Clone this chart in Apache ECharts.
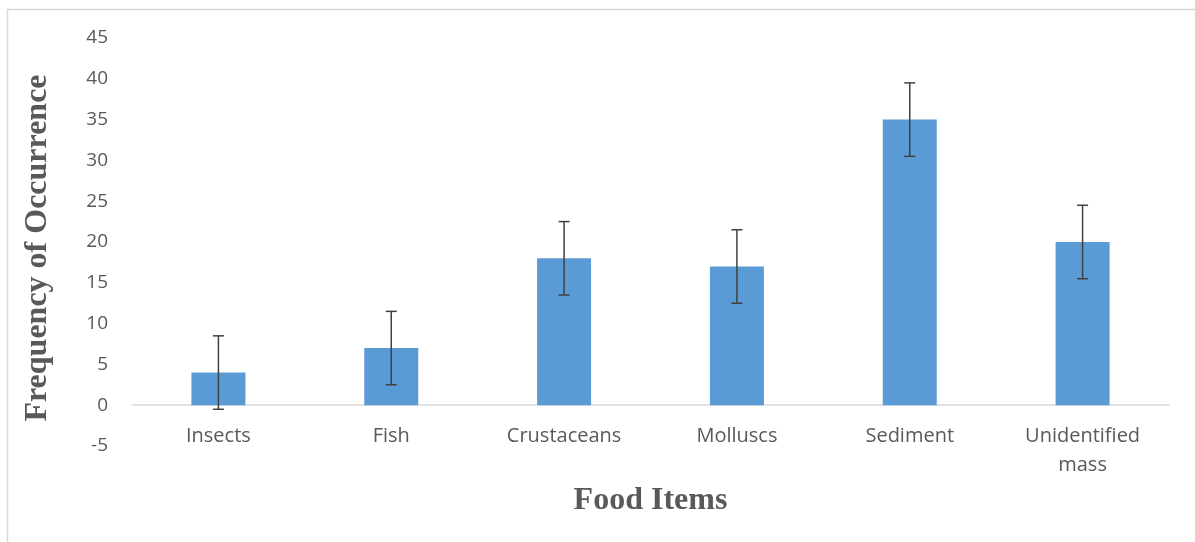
<!DOCTYPE html>
<html>
<head>
<meta charset="utf-8">
<script src="https://cdn.jsdelivr.net/npm/echarts@6/dist/echarts.min.js"></script>
<style>
  html, body { margin: 0; padding: 0; background: #fff; }
  #chart { width: 1195px; height: 542px; }
</style>
</head>
<body>
<div id="chart"></div>
<script>
// data
var categories = ["Insects", "Fish", "Crustaceans", "Molluscs", "Sediment", "Unidentified\nmass"];
var values = [4, 7, 18, 17, 35, 20];
var errors = [4.5, 4.5, 4.5, 4.5, 4.5, 4.5];

var chart = echarts.init(document.getElementById("chart"));

var errData = values.map(function (v, i) {
  return [i, v - errors[i], v + errors[i]];
});

chart.setOption({
  animation: false,
  graphic: [
    {
      type: "rect",
      shape: { x: 7.5, y: 9.5, width: 1300, height: 700 },
      style: { fill: "none", stroke: "#d9d9d9", lineWidth: 1.5 },
      silent: true
    }
  ],
  grid: {
    left: 132,
    right: 26,
    top: 38,
    bottom: 96,
    outerBoundsMode: "none"
  },
  xAxis: {
    type: "category",
    data: categories,
    // the axis sits on zero, labels hang just under it
    offset: -41,
    axisLine: { onZero: false, lineStyle: { color: "#d9d9d9", width: 1.5 } },
    axisTick: { show: false },
    axisLabel: {
      color: "#595959",
      fontFamily: "Open Sans",
      fontSize: 20,
      lineHeight: 29,
      margin: 17,
      interval: 0
    },
    name: "Food Items",
    nameLocation: "middle",
    nameGap: 80,
    nameTextStyle: {
      color: "#595959",
      fontFamily: "Liberation Serif",
      fontWeight: "bold",
      fontSize: 32
    }
  },
  yAxis: {
    type: "value",
    min: -5,
    max: 45,
    interval: 5,
    splitLine: { show: false },
    axisLine: { show: false },
    axisTick: { show: false },
    axisLabel: {
      color: "#595959",
      fontFamily: "Open Sans",
      fontSize: 19,
      margin: 24
    },
    name: "Frequency of Occurrence",
    nameLocation: "middle",
    nameGap: 78,
    nameTextStyle: {
      color: "#595959",
      fontFamily: "Liberation Serif",
      fontWeight: "bold",
      fontSize: 32,
      padding: [0, 12, 0, 0]
    }
  },
  series: [
    {
      type: "bar",
      data: values,
      barWidth: 54,
      itemStyle: { color: "#5b9bd5" }
    },
    {
      type: "custom",
      data: errData,
      z: 10,
      renderItem: function (params, api) {
        var lo = api.coord([api.value(0), api.value(1)]);
        var hi = api.coord([api.value(0), api.value(2)]);
        var cap = 5.5;
        var style = { stroke: "#404040", lineWidth: 1.5 };
        return {
          type: "group",
          children: [
            { type: "line", shape: { x1: hi[0], y1: hi[1], x2: lo[0], y2: lo[1] }, style: style },
            { type: "line", shape: { x1: hi[0] - cap, y1: hi[1], x2: hi[0] + cap, y2: hi[1] }, style: style },
            { type: "line", shape: { x1: lo[0] - cap, y1: lo[1], x2: lo[0] + cap, y2: lo[1] }, style: style }
          ]
        };
      }
    }
  ]
});
</script>
</body>
</html>
